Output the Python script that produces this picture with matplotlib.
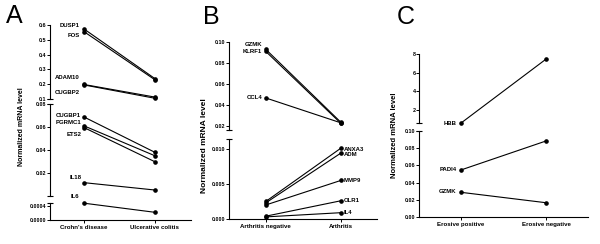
import matplotlib
matplotlib.use('Agg')
import matplotlib.pyplot as plt

plt.rcParams['font.family'] = ['Liberation Sans', 'DejaVu Sans']

# ---- data ----
# Panel A: Crohn's disease vs Ulcerative colitis
a_groups = ["Crohn's disease", "Ulcerative colitis"]
a_top_genes = ['DUSP1', 'FOS', 'ADAM10', 'CUGBP2']
a_top_cd = [0.573, 0.555, 0.198, 0.195]
a_top_uc = [0.238, 0.230, 0.113, 0.105]
a_mid_genes = ['CUGBP1', 'PGRMC1', 'ETS2', 'IL18']
a_mid_cd = [0.0687, 0.0610, 0.0595, 0.0116]
a_mid_uc = [0.0380, 0.0350, 0.0298, 0.0052]
a_bot_genes = ['IL6']
a_bot_cd = [0.00048]
a_bot_uc = [0.00022]

# Panel B: Arthritis negative vs Arthritis
b_groups = ['Arthritis negative', 'Arthritis']
b_top_genes = ['GZMK', 'KLRF1', 'CCL4']
b_top_neg = [0.093, 0.091, 0.0467]
b_top_pos = [0.0235, 0.0225, 0.0230]
b_bot_genes = ['ANXA3', 'ADM', 'MMP9', 'OLR1', 'IL4']
b_bot_neg = [0.0025, 0.0023, 0.0020, 0.0004, 0.0003]
b_bot_pos = [0.0101, 0.0094, 0.0055, 0.0026, 0.0009]

# Panel C: Erosive positive vs Erosive negative
c_groups = ['Erosive positive', 'Erosive negative']
c_top_genes = ['HBB']
c_top_pos = [0.60]
c_top_neg = [7.45]
c_bot_genes = ['PADI4', 'GZMK']
c_bot_pos = [0.0547, 0.0287]
c_bot_neg = [0.0884, 0.0166]

W, H = 600, 244
fig = plt.figure(figsize=(6, 2.44), dpi=100)

TICK_FS = 3.9   # y tick labels
GENE_FS = 4.3   # gene names
XLAB_FS = 4.4   # group names on x axis


def seg(l, r, top, bot, ylim, yticks, fmt, caps, xaxis=False, xlim=(-0.5, 1.5), groups=None):
    ax = fig.add_axes([l / W, 1 - bot / H, (r - l) / W, (bot - top) / H])
    ax.set_xlim(*xlim)
    ax.set_ylim(*ylim)
    ax.patch.set_alpha(0)
    for s in ['top', 'right']:
        ax.spines[s].set_visible(False)
    ax.spines['left'].set_linewidth(0.8)
    ax.set_yticks(yticks)
    ax.set_yticklabels([fmt.format(t) for t in yticks], fontsize=TICK_FS, fontweight='bold')
    ax.tick_params(axis='y', length=2, width=0.7, pad=0.5)
    if xaxis:
        ax.spines['bottom'].set_linewidth(0.8)
        ax.set_xticks([0, 1])
        ax.set_xticklabels(groups, fontsize=XLAB_FS, fontweight='bold')
        ax.tick_params(axis='x', length=2, width=0.7, pad=1.5)
    else:
        ax.spines['bottom'].set_visible(False)
        ax.set_xticks([])
    # short horizontal caps where the axis is broken
    for c in caps:
        ax.plot([0], [c], transform=ax.transAxes, marker='_', ms=5, mew=0.8,
                color='black', clip_on=False)
    return ax


def pairs(ax, left, right, genes, label_y, side='left', lx=-0.05):
    for a, b, g, ly in zip(left, right, genes, label_y):
        ax.plot([0, 1], [a, b], color='black', lw=0.8, marker='o', ms=2.3, clip_on=False)
        if side == 'left':
            ax.text(lx, ly, g, ha='right', va='center', fontsize=GENE_FS,
                    fontweight='bold', clip_on=False)
        else:
            ax.text(1 + lx, ly, g, ha='left', va='center', fontsize=GENE_FS,
                    fontweight='bold', clip_on=False)


def ylabel(x, y, fs):
    fig.text(x / W, 1 - y / H, 'Normalized mRNA level', rotation=90, ha='center',
             va='center', fontsize=fs, fontweight='bold')


# ---- Panel A ----
axl = (-0.48, 1.51)
ax = seg(50, 191, 25, 99, (0.1, 0.6), [0.1, 0.2, 0.3, 0.4, 0.5, 0.6], '{:.1f}', [0], xlim=axl)
pairs(ax, a_top_cd, a_top_uc, a_top_genes, [0.597, 0.529, 0.245, 0.144], lx=-0.06)
ax = seg(50, 191, 104, 196, (0.0, 0.08), [0.02, 0.04, 0.06, 0.08], '{:.2f}', [0, 1], xlim=axl)
pairs(ax, a_mid_cd, a_mid_uc, a_mid_genes, [0.0704, 0.0639, 0.0535, 0.0165], lx=-0.04)
ax = seg(50, 191, 202.5, 220, (0.0, 0.0005), [0.0, 0.0004], '{:.4f}', [1], xaxis=True,
         xlim=axl, groups=a_groups)
pairs(ax, a_bot_cd, a_bot_uc, a_bot_genes, [0.00068], lx=-0.07)
ylabel(22, 127, 5.0)
fig.text(6 / W, 1 - 16 / H, 'A', fontsize=18, ha='left', va='center')

# ---- Panel B ----
bxl = (-0.49, 1.48)
ax = seg(229, 377, 42, 130, (0.0162, 0.10), [0.02, 0.04, 0.06, 0.08, 0.10], '{:.2f}', [0], xlim=bxl)
pairs(ax, b_top_neg, b_top_pos, b_top_genes, [0.0974, 0.0911, 0.0467], lx=-0.05)
ax = seg(229, 377, 139, 219, (0.0, 0.0114), [0.0, 0.005, 0.010], '{:.3f}', [1], xaxis=True,
         xlim=bxl, groups=b_groups)
pairs(ax, b_bot_neg, b_bot_pos, b_bot_genes, [0.00986, 0.00914, 0.00543, 0.00257, 0.00086],
      side='right', lx=0.04)
ylabel(205, 146, 6.0)
fig.text(203 / W, 1 - 17 / H, 'B', fontsize=18, ha='left', va='center')

# ---- Panel C ----
cxl = (-0.494, 1.494)
ax = seg(419, 588, 54, 123.3, (0.575, 8), [2, 4, 6, 8], '{:d}', [0], xlim=cxl)
pairs(ax, c_top_pos, c_top_neg, c_top_genes, [0.607], lx=-0.05)
ax = seg(419, 588, 131, 217, (0.0, 0.10), [0.0, 0.02, 0.04, 0.06, 0.08, 0.10], '{:.2f}', [1],
         xaxis=True, xlim=cxl, groups=c_groups)
pairs(ax, c_bot_pos, c_bot_neg, c_bot_genes, [0.0547, 0.0291], lx=-0.05)
ylabel(395, 135, 5.5)
fig.text(397 / W, 1 - 17 / H, 'C', fontsize=18, ha='left', va='center')

fig.savefig('out.png', dpi=100)
